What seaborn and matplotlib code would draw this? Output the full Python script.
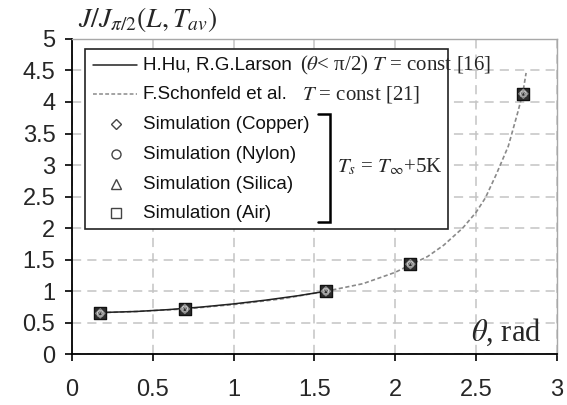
import matplotlib
matplotlib.use("Agg")
import matplotlib.pyplot as plt
import seaborn as sns
import pandas as pd
from matplotlib.patches import Rectangle
from matplotlib.ticker import FormatStrFormatter

# ---- data ----
theta_hu = [0.175, 0.4, 0.6, 0.8, 1.0, 1.2, 1.4, 1.571]
j_hu = [0.663, 0.68, 0.71, 0.75, 0.80, 0.86, 0.93, 1.0]

theta_sch = [0.175, 0.4, 0.7, 1.0, 1.3, 1.571, 1.8, 2.0, 2.094, 2.2, 2.3,
             2.417, 2.5, 2.558, 2.625, 2.70, 2.76, 2.79, 2.81]
j_sch = [0.66, 0.68, 0.72, 0.79, 0.88, 1.0, 1.12, 1.3, 1.42, 1.55, 1.73,
         2.0, 2.25, 2.48, 2.85, 3.3, 3.85, 4.15, 4.46]

theta_sim = [0.175, 0.698, 1.571, 2.094, 2.793]
j_copper = [0.65, 0.72, 1.0, 1.43, 4.13]
j_nylon = [0.65, 0.72, 1.0, 1.43, 4.13]
j_silica = [0.65, 0.72, 1.0, 1.43, 4.13]
j_air = [0.65, 0.72, 1.0, 1.43, 4.13]

xticks = [0, 0.5, 1, 1.5, 2, 2.5, 3]
yticks = [0, 0.5, 1, 1.5, 2, 2.5, 3, 3.5, 4, 4.5, 5]

sns.set_style("white")
plt.rcParams["font.family"] = ["Liberation Sans", "DejaVu Sans"]
plt.rcParams["mathtext.fontset"] = "stix"

fig = plt.figure(figsize=(5.67, 4.05), dpi=100)
ax = fig.add_axes([0.127, 0.125, 0.855, 0.779])

df_hu = pd.DataFrame({"theta": theta_hu, "J": j_hu})
df_sch = pd.DataFrame({"theta": theta_sch, "J": j_sch})

sns.lineplot(data=df_sch, x="theta", y="J", ax=ax, color="#8a8a8a",
             lw=1.2, linestyle=(0, (2.5, 1.5)), sort=False, zorder=3)
sns.lineplot(data=df_hu, x="theta", y="J", ax=ax, color="#222222",
             lw=1.1, sort=False, zorder=4)

# simulation markers (overlapping)
sns.scatterplot(x=theta_sim, y=j_air, ax=ax, marker="s", s=85,
                color="#2e2e2e", edgecolor="#111111", linewidth=1.0, zorder=5)
sns.scatterplot(x=theta_sim, y=j_copper, ax=ax, marker="D", s=22,
                facecolor="none", edgecolor="#8c8c8c", linewidth=0.9, zorder=6)
sns.scatterplot(x=theta_sim, y=j_nylon, ax=ax, marker="o", s=16,
                facecolor="none", edgecolor="#c8c8c8", linewidth=0.9, zorder=7)
sns.scatterplot(x=theta_sim, y=j_silica, ax=ax, marker="^", s=14,
                facecolor="none", edgecolor="#a0a0a0", linewidth=0.8, zorder=7)

ax.set_xlim(0, 3)
ax.set_ylim(0, 5)
ax.set_xticks(xticks)
ax.set_yticks(yticks)
ax.xaxis.set_major_formatter(FormatStrFormatter("%g"))
ax.yaxis.set_major_formatter(FormatStrFormatter("%g"))
ax.set_xlabel("")
ax.set_ylabel("")
ax.tick_params(axis="both", labelsize=17, direction="out", length=5,
               width=1.2, color="black", left=True, bottom=True)
ax.tick_params(axis="x", pad=13)
ax.tick_params(axis="y", pad=7)

ax.grid(True, color="#c4c4c4", linestyle=(0, (6, 4)), linewidth=1.1)
ax.set_axisbelow(True)
for s in ["left", "bottom"]:
    ax.spines[s].set_color("black")
    ax.spines[s].set_linewidth(1.3)
for s in ["top", "right"]:
    ax.spines[s].set_color("#a8a8a8")
    ax.spines[s].set_linewidth(1.0)

# ---- manual legend ----
tA = ax.transAxes
ax.add_patch(Rectangle((0.027, 0.397), 0.748, 0.571, transform=tA,
                       facecolor="white", edgecolor="#222222", lw=1.2,
                       zorder=8))
rows = [0.917, 0.825, 0.730, 0.635, 0.540, 0.448]
ax.plot([0.043, 0.134], [rows[0]] * 2, transform=tA, color="#222222",
        lw=1.1, zorder=9)
ax.plot([0.043, 0.134], [rows[1]] * 2, transform=tA, color="#8a8a8a",
        lw=1.1, linestyle=(0, (2.5, 1.5)), zorder=9)
mk = [("D", 5.5), ("o", 6.5), ("^", 6.5), ("s", 6.5)]
for (m, ms), yy in zip(mk, rows[2:]):
    ax.plot([0.091], [yy], transform=tA, marker=m, ms=ms, mfc="white",
            mec="#444444", mew=1.0, linestyle="none", zorder=9)

labels = ["H.Hu, R.G.Larson", "F.Schonfeld et al.",
          "Simulation (Copper)", "Simulation (Nylon)",
          "Simulation (Silica)", "Simulation (Air)"]
for lab, yy in zip(labels, rows):
    ax.text(0.146, yy, lab, transform=tA, fontsize=13.5, va="center",
            ha="left", color="#111111", zorder=9)

serif = ["Liberation Serif", "DejaVu Serif"]
ax.text(0.470, rows[0], r"($\theta$< π/2) $T$ = const [16]", transform=tA,
        fontsize=15, va="center", ha="left", family=serif, zorder=9)
ax.text(0.474, rows[1], r"$T$ = const [21]", transform=tA,
        fontsize=15, va="center", ha="left", family=serif, zorder=9)
ax.plot([0.507, 0.532, 0.532, 0.507], [0.762, 0.762, 0.419, 0.419],
        transform=tA, color="black", lw=1.8, zorder=9, solid_joinstyle="miter")
ax.text(0.546, 0.594, r"$T_s$ = $T_{\infty}$+5K", transform=tA,
        fontsize=15, va="center", ha="left", family=serif, zorder=9)

# axis titles
fig.text(78 / 567, 1 - 19 / 405, r"$J/J_{\pi/2}(L,T_{av})$", fontsize=20,
         va="center", ha="left")
ax.text(0.823, 0.07, r"$\theta$, rad", transform=tA, fontsize=22,
        va="center", ha="left", family=serif, zorder=9)

fig.savefig("out.png", dpi=100)
